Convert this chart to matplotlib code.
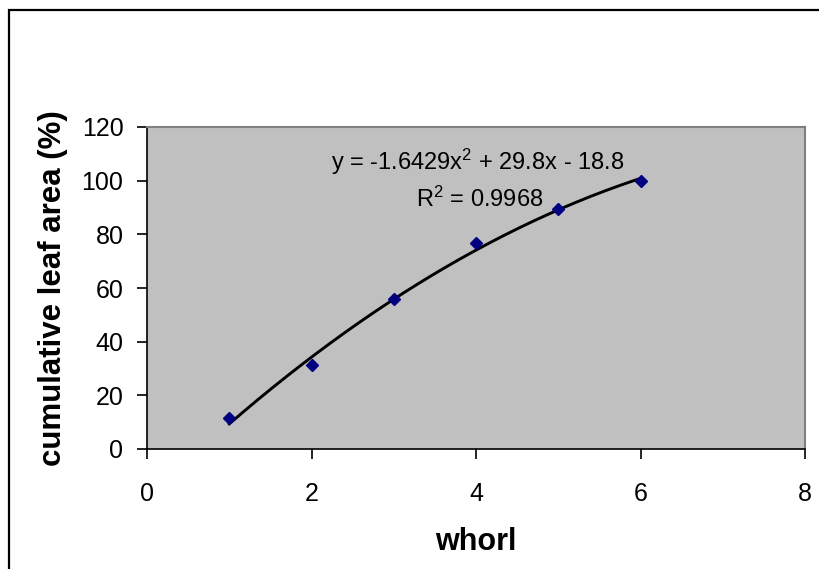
import numpy as np
import matplotlib
matplotlib.use("Agg")
import matplotlib.pyplot as plt
from matplotlib.patches import Rectangle

# data
whorl = [1, 2, 3, 4, 5, 6]
leaf_area = [11.5, 31.3, 55.8, 76.6, 89.6, 100.0]
# polynomial trendline as printed on the chart
trend_coef = [-1.6429, 29.8, -18.8]
eq_text = "y = -1.6429x$^{2}$ + 29.8x - 18.8"
r2_text = "R$^{2}$ = 0.9968"

plt.rcParams["font.family"] = ["Liberation Sans", "DejaVu Sans"]
plt.rcParams["mathtext.fontset"] = "custom"
plt.rcParams["mathtext.rm"] = "Liberation Sans"
plt.rcParams["mathtext.it"] = "Liberation Sans"
plt.rcParams["mathtext.default"] = "regular"

fig = plt.figure(figsize=(8.19, 5.69), dpi=100)
ax = fig.add_axes([147 / 819, 1 - 449 / 569, (805 - 147) / 819, (449 - 127) / 569])

ax.set_facecolor("#C0C0C0")

# trendline
xs = np.linspace(min(whorl), max(whorl), 200)
ax.plot(xs, np.polyval(trend_coef, xs), color="black", linewidth=2.1, zorder=2)

# data points
ax.plot(whorl, leaf_area, linestyle="none", marker="D", markersize=6.5,
        color="#000080", zorder=3)

ax.set_xlim(0, 8)
ax.set_ylim(0, 120)
ax.set_xticks(range(0, 9, 2))
ax.set_yticks(range(0, 121, 20))

for side in ["top", "right"]:
    ax.spines[side].set_color("#808080")
    ax.spines[side].set_linewidth(1.5)
for side in ["left", "bottom"]:
    ax.spines[side].set_color("black")
    ax.spines[side].set_linewidth(1.2)

ax.tick_params(axis="both", direction="out", length=7, width=1.2, labelsize=18)
ax.tick_params(axis="x", pad=17)
ax.tick_params(axis="y", pad=10)

ax.set_xlabel("whorl", fontsize=22, fontweight="bold", labelpad=15)
ax.set_ylabel("cumulative leaf area (%)", fontsize=22.5, fontweight="bold", labelpad=10)

# trendline equation
ax.text(4.02, 104.0, eq_text, fontsize=17, ha="center", va="baseline")
ax.text(4.05, 90.2, r2_text, fontsize=17, ha="center", va="baseline")

# outer chart border (cropped at right and bottom)
fig.patches.append(Rectangle((9 / 819, -0.1), 1.2, 1 - 10 / 569 + 0.1,
                             transform=fig.transFigure, fill=False,
                             edgecolor="black", linewidth=1.6))

fig.savefig("out.png", dpi=100)
